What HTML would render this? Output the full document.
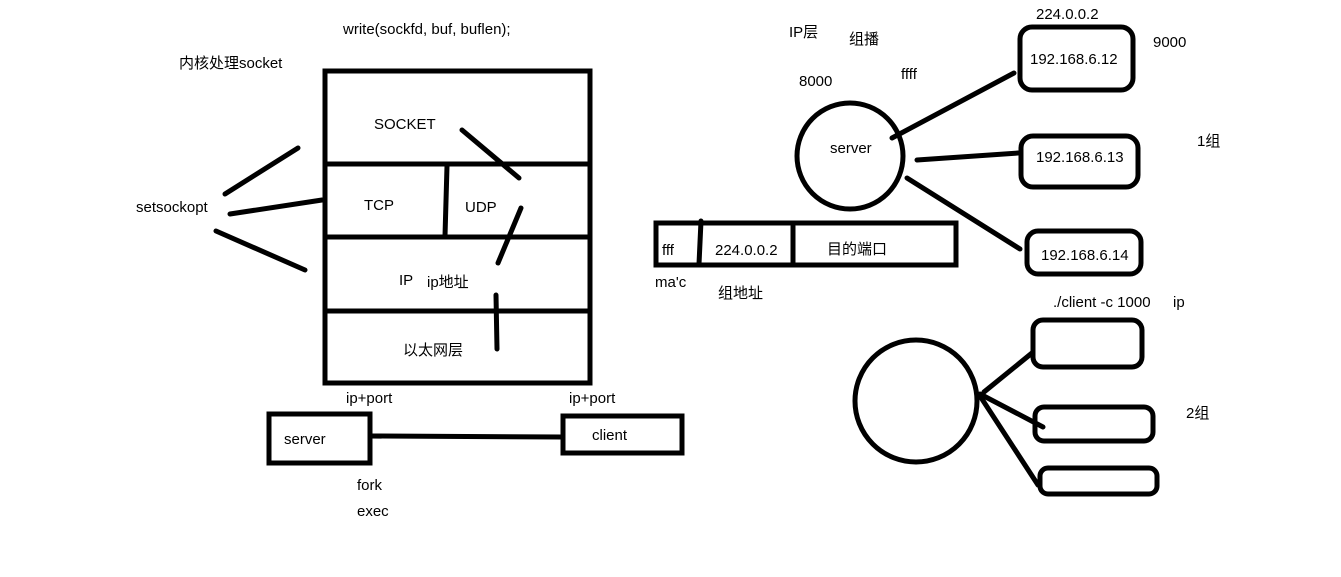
<!DOCTYPE html>
<html><head><meta charset="utf-8"><style>
html,body{margin:0;padding:0;background:#fff;}
svg{display:block}
text{font-family:"Liberation Sans","Noto Sans CJK SC",sans-serif;font-size:15px;fill:#000}
</style></head><body>
<svg width="1341" height="577" viewBox="0 0 1341 577" xmlns="http://www.w3.org/2000/svg">
<g stroke="#000" stroke-width="5" fill="none" stroke-linecap="round">
<rect x="325" y="71" width="265" height="312"/>
<line x1="325" y1="164" x2="590" y2="164"/>
<line x1="325" y1="237" x2="590" y2="237"/>
<line x1="325" y1="311" x2="590" y2="311"/>
<line x1="447" y1="166" x2="445" y2="236"/>
<line x1="225" y1="194" x2="298" y2="148"/>
<line x1="230" y1="214" x2="322" y2="200"/>
<line x1="216" y1="231" x2="305" y2="270"/>
<line x1="462" y1="130" x2="519" y2="178"/>
<line x1="521" y1="208" x2="498" y2="263"/>
<line x1="496" y1="295" x2="497" y2="349"/>
<rect x="269" y="414" width="101" height="49"/>
<rect x="563" y="416" width="119" height="37"/>
<line x1="370" y1="436" x2="562" y2="437"/>
<circle cx="850" cy="156" r="53"/>
<rect x="1020" y="27" width="113" height="63" rx="12"/>
<rect x="1021" y="136" width="117" height="51" rx="12"/>
<rect x="1027" y="231" width="114" height="43" rx="11"/>
<line x1="892" y1="138" x2="1014" y2="73"/>
<line x1="917" y1="160" x2="1018" y2="153"/>
<line x1="907" y1="178" x2="1020" y2="249"/>
<rect x="656" y="223" width="300" height="42"/>
<line x1="701" y1="221" x2="699" y2="264"/>
<line x1="793" y1="226" x2="793" y2="264"/>
<ellipse cx="916" cy="401" rx="61" ry="61"/>
<rect x="1033" y="320" width="109" height="47" rx="10"/>
<rect x="1035" y="407" width="118" height="34" rx="9"/>
<rect x="1040" y="468" width="117" height="26" rx="8"/>
<line x1="984" y1="392" x2="1032" y2="353"/>
<line x1="980" y1="394" x2="1043" y2="427"/>
<line x1="980" y1="396" x2="1038" y2="485"/>
</g>
<text x="343" y="34">write(sockfd, buf, buflen);</text>
<text x="179" y="68">内核处理socket</text>
<text x="374" y="129">SOCKET</text>
<text x="136" y="212">setsockopt</text>
<text x="364" y="210">TCP</text>
<text x="465" y="212">UDP</text>
<text x="399" y="285">IP</text>
<text x="427" y="287">ip地址</text>
<text x="403" y="355">以太网层</text>
<text x="346" y="403">ip+port</text>
<text x="569" y="403">ip+port</text>
<text x="284" y="444">server</text>
<text x="592" y="440">client</text>
<text x="357" y="490">fork</text>
<text x="357" y="516">exec</text>
<text x="789" y="37">IP层</text>
<text x="849" y="44">组播</text>
<text x="799" y="86">8000</text>
<text x="901" y="79">ffff</text>
<text x="830" y="153">server</text>
<text x="1036" y="19">224.0.0.2</text>
<text x="1030" y="64">192.168.6.12</text>
<text x="1153" y="47">9000</text>
<text x="1036" y="162">192.168.6.13</text>
<text x="1197" y="146">1组</text>
<text x="1041" y="260">192.168.6.14</text>
<text x="662" y="255">fff</text>
<text x="715" y="255">224.0.0.2</text>
<text x="827" y="254">目的端口</text>
<text x="655" y="287">ma'c</text>
<text x="718" y="298">组地址</text>
<text x="1053" y="307">./client -c 1000</text>
<text x="1173" y="307">ip</text>
<text x="1186" y="418">2组</text>
</svg>
</body></html>
